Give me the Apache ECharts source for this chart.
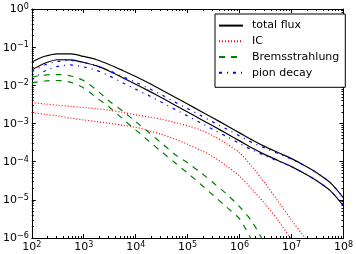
<!DOCTYPE html>
<html><head><meta charset="utf-8">
<script src="https://cdn.jsdelivr.net/npm/echarts@6/dist/echarts.min.js"></script>
<style>html,body{margin:0;padding:0;background:#fff}#c{width:356px;height:254px}</style>
</head><body><div id="c"></div>
<script>
// photon energy grid (quarter decades)
const energy = [1e2, 1.78e2, 3.16e2, 5.62e2, 1e3, 1.78e3, 3.16e3, 5.62e3, 1e4, 1.78e4, 3.16e4, 5.62e4, 1e5, 1.78e5, 3.16e5, 5.62e5, 1e6, 1.78e6, 3.16e6, 5.62e6, 1e7, 1.78e7, 3.16e7, 5.62e7, 1e8];
// model A (upper) and model B (lower)
const totalA = [0.0410, 0.0578, 0.0671, 0.0664, 0.0571, 0.0468, 0.0347, 0.0245, 0.0170, 0.01148, 0.00759, 0.00495, 0.00324, 0.0021, 0.00137, 8.87e-4, 5.68e-4, 3.63e-4, 2.44e-4, 1.71e-4, 1.20e-4, 7.91e-5, 4.97e-5, 2.79e-5, 1.13e-5];
const totalB = [0.0253, 0.0379, 0.0468, 0.0462, 0.0397, 0.0324, 0.0234, 0.0158, 0.0107, 0.00716, 0.00473, 0.00307, 0.0020, 0.0013, 8.45e-4, 5.47e-4, 3.51e-4, 2.24e-4, 1.51e-4, 1.06e-4, 7.40e-5, 4.88e-5, 3.07e-5, 1.72e-5, 6.97e-6];
const icA = [3.52e-3, 3.26e-3, 2.99e-3, 2.81e-3, 2.62e-3, 2.44e-3, 2.22e-3, 1.96e-3, 1.69e-3, 1.48e-3, 1.29e-3, 1.07e-3, 8.71e-4, 6.76e-4, 4.68e-4, 2.95e-4, 1.70e-4, 7.10e-5, 2.62e-5, 8.87e-6, 2.94e-6, 1.04e-6, 3.4e-7];
const icB = [1.93e-3, 1.74e-3, 1.58e-3, 1.38e-3, 1.24e-3, 1.12e-3, 1.01e-3, 9.02e-4, 7.94e-4, 6.53e-4, 5.19e-4, 3.94e-4, 2.85e-4, 2.0e-4, 1.32e-4, 7.76e-5, 4.17e-5, 1.82e-5, 7.59e-6, 2.82e-6, 8.9e-7, 2.8e-7];
const bremA = [0.0166, 0.0186, 0.0192, 0.0176, 0.0132, 0.00748, 0.00379, 0.00211, 0.00112, 5.89e-4, 3.05e-4, 1.57e-4, 9.31e-5, 5.18e-5, 2.75e-5, 1.42e-5, 6.6e-6, 2.55e-6, 6.3e-7];
const bremB = [0.01156, 0.0130, 0.0134, 0.0119, 0.00855, 0.00468, 0.00264, 0.00132, 6.79e-4, 3.47e-4, 1.82e-4, 9.55e-5, 5.01e-5, 2.57e-5, 1.29e-5, 6.46e-6, 3.16e-6, 7.9e-7];
const pionA = [0.0224, 0.0342, 0.0423, 0.0449, 0.0397, 0.0324, 0.0240, 0.0170, 0.0120, 0.00832, 0.00568, 0.00367, 0.00245, 0.00163, 0.00107, 7.18e-4, 4.73e-4, 3.13e-4, 2.23e-4, 1.61e-4, 1.16e-4, 7.91e-5, 4.97e-5, 2.79e-5, 1.13e-5];
const pionB = [0.0138, 0.0238, 0.0313, 0.0342, 0.0303, 0.0245, 0.0174, 0.01175, 0.00794, 0.0054, 0.00361, 0.00238, 0.00158, 1.04e-3, 6.84e-4, 4.57e-4, 3.01e-4, 1.99e-4, 1.42e-4, 1.02e-4, 7.40e-5, 4.88e-5, 3.07e-5, 1.72e-5, 6.97e-6];
const legendNames = ['total flux', 'IC', 'Bremsstrahlung', 'pion decay'];
const xRange = [1e2, 1e8];
const yRange = [1e-6, 1];

const FONT = 'DejaVu Sans';
const minorX = [], minorY = [];
for (let n = 2; n < 8; n++) for (let k = 2; k <= 9; k++) minorX.push(n + Math.log10(k));
for (let n = -6; n < 0; n++) for (let k = 2; k <= 9; k++) minorY.push(n + Math.log10(k));

const rich = {
  b: {fontSize: 11, lineHeight: 12, verticalAlign: 'bottom', color: '#000', fontFamily: FONT},
  e: {fontSize: 8, lineHeight: 8, verticalAlign: 'top', color: '#000', fontFamily: FONT}
};
function fmt(v) {
  const e = Math.round(Math.log10(v));
  return '{b|10}{e|' + String(e).replace('-', '\u2212') + '}';
}
const pts = arr => arr.map((y, i) => [energy[i], y]);

function tickAxis(type, pos, min, max, custom, len, line) {
  const ax = {
    type: 'value', position: pos, min: min, max: max,
    axisLine: {show: !!line, onZero: false, lineStyle: {color: '#000', width: 1}},
    axisTick: {show: true, inside: true, length: len, lineStyle: {color: '#000', width: 1}},
    axisLabel: {show: false}, splitLine: {show: false}
  };
  if (custom) ax.axisTick.customValues = custom; else ax.interval = 1;
  return ax;
}

const styles = {
  'total flux': {color: '#000000', type: 'solid', width: 1.2},
  'IC': {color: '#ff0000', type: [1, 2], width: 1.2},
  'Bremsstrahlung': {color: '#008000', type: [6, 6], width: 1.2},
  'pion decay': {color: '#0000ff', type: [3, 5, 1, 5], width: 1.2}
};
function ser(name, arr) {
  return {
    name: name, type: 'line', xAxisIndex: 0, yAxisIndex: 0, data: pts(arr),
    symbol: 'none', showSymbol: false, smooth: 0.3, clip: true,
    lineStyle: styles[name], itemStyle: {color: styles[name].color}
  };
}

const chart = echarts.init(document.getElementById('c'), null, {renderer: 'canvas'});
chart.setOption({
  animation: false,
  backgroundColor: '#fff',
  textStyle: {fontFamily: FONT},
  grid: {left: 26, right: 9, top: 9, bottom: 16, containLabel: false},
  xAxis: [
    {type: 'log', logBase: 10, min: xRange[0], max: xRange[1], interval: 1, position: 'bottom',
     axisLine: {show: true, onZero: false, lineStyle: {color: '#000', width: 1}},
     axisTick: {show: true, inside: true, length: 4, lineStyle: {color: '#000'}},
     axisLabel: {show: true, formatter: fmt, rich: rich, margin: 3},
     splitLine: {show: false}, minorTick: {show: false}},
    tickAxis('value', 'bottom', 2, 8, minorX, 2, false),
    tickAxis('value', 'top', 2, 8, null, 4, true),
    tickAxis('value', 'top', 2, 8, minorX, 2, false)
  ],
  yAxis: [
    {type: 'log', logBase: 10, min: yRange[0], max: yRange[1], interval: 1, position: 'left',
     axisLine: {show: true, onZero: false, lineStyle: {color: '#000', width: 1}},
     axisTick: {show: true, inside: true, length: 4, lineStyle: {color: '#000'}},
     axisLabel: {show: true, formatter: fmt, rich: rich, margin: 3},
     splitLine: {show: false}, minorTick: {show: false}},
    tickAxis('value', 'left', -6, 0, minorY, 2, false),
    tickAxis('value', 'right', -6, 0, null, 4, true),
    tickAxis('value', 'right', -6, 0, minorY, 2, false)
  ],
  legend: {
    data: legendNames, orient: 'vertical', left: 215, top: 14,
    itemWidth: 24, itemHeight: 14, itemGap: 4.5,
    padding: [6, 6, 9, 3],
    backgroundColor: '#fff', borderColor: '#000', borderWidth: 1, borderRadius: 0,
    itemStyle: {opacity: 0},
    textStyle: {fontFamily: FONT, fontSize: 11, color: '#000', padding: [0, 0, 0, 4]},
    selectedMode: false, z: 10
  },
  series: [
    ser('total flux', totalA), ser('total flux', totalB),
    ser('IC', icA), ser('IC', icB),
    ser('Bremsstrahlung', bremA), ser('Bremsstrahlung', bremB),
    ser('pion decay', pionA), ser('pion decay', pionB)
  ]
});
</script></body></html>
